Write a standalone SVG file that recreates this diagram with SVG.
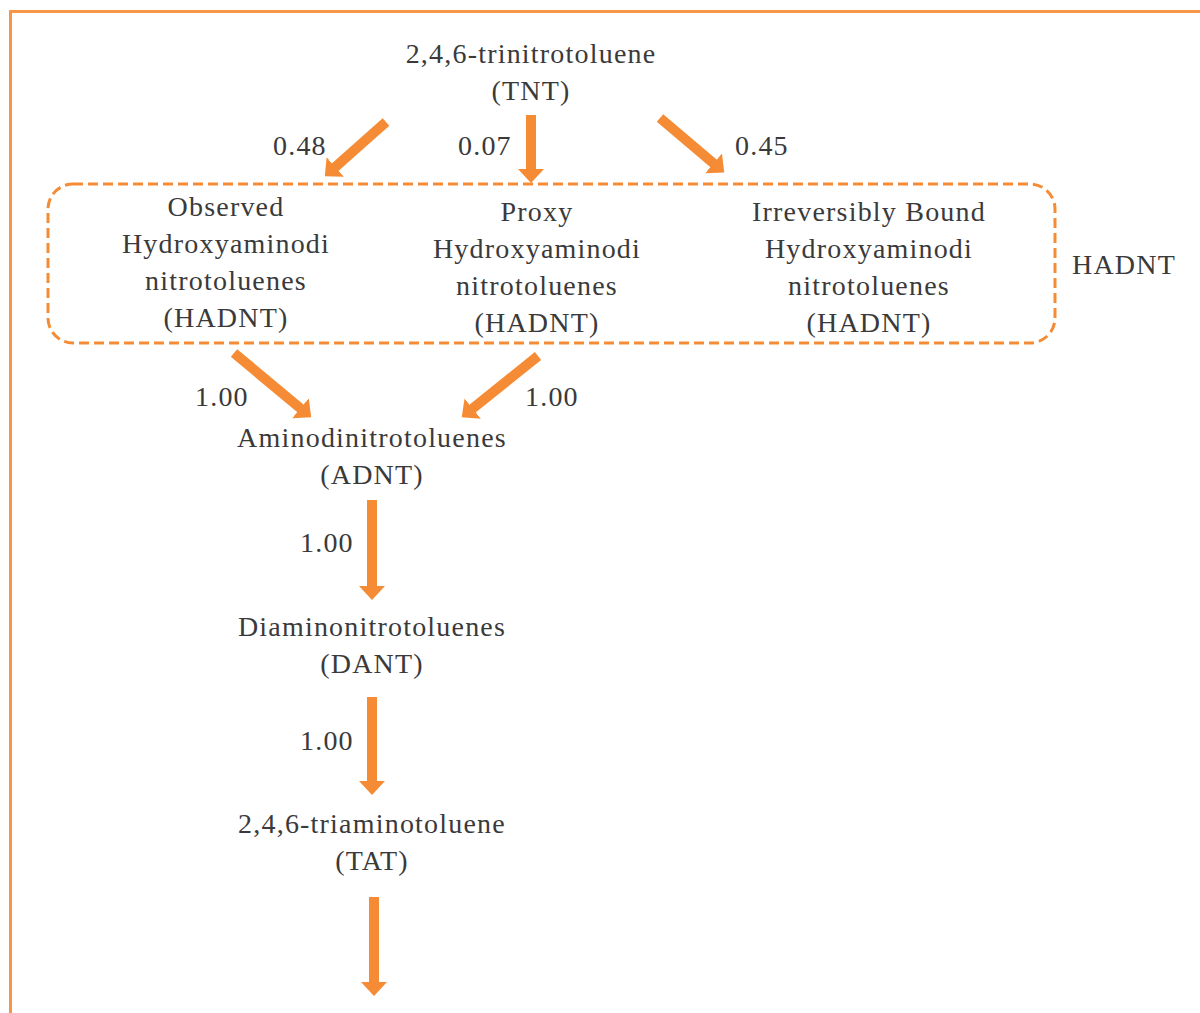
<svg xmlns="http://www.w3.org/2000/svg" width="1200" height="1013" viewBox="0 0 1200 1013">
<style>
text{font-family:'Liberation Serif','Tinos','Times New Roman','DejaVu Serif',serif;font-size:28px;fill:#3a3a3a;letter-spacing:1.2px}
.c{text-anchor:middle}
.ar{stroke:#F58B34;stroke-width:10;fill:none;marker-end:url(#h)}
</style>
<defs>
<marker id="h" markerUnits="userSpaceOnUse" markerWidth="16" markerHeight="28" refX="1" refY="13" orient="auto" viewBox="0 0 16 26">
<path d="M0,0 L14,13 L0,26 z" fill="#F58B34"/>
</marker>
</defs>
<rect x="10.5" y="11.5" width="1200" height="1010" fill="none" stroke="#F79646" stroke-width="3"/>
<g id="hadnt-group">
<rect x="48" y="184" width="1007" height="159" rx="25" fill="none" stroke="#F58B34" stroke-width="3" stroke-dasharray="10,5"/>
<text x="1072" y="274">HADNT</text>
</g>
<g id="tnt"><text class="c" x="531" y="63">2,4,6-trinitrotoluene</text><text class="c" x="531" y="100">(TNT)</text></g>
<g id="observed"><text class="c" x="226" y="216">Observed</text><text class="c" x="226" y="253">Hydroxyaminodi</text><text class="c" x="226" y="290">nitrotoluenes</text><text class="c" x="226" y="327">(HADNT)</text></g>
<g id="proxy"><text class="c" x="537" y="221">Proxy</text><text class="c" x="537" y="258">Hydroxyaminodi</text><text class="c" x="537" y="295">nitrotoluenes</text><text class="c" x="537" y="332">(HADNT)</text></g>
<g id="bound"><text class="c" x="869" y="221">Irreversibly Bound</text><text class="c" x="869" y="258">Hydroxyaminodi</text><text class="c" x="869" y="295">nitrotoluenes</text><text class="c" x="869" y="332">(HADNT)</text></g>
<g id="adnt"><text class="c" x="372" y="447">Aminodinitrotoluenes</text><text class="c" x="372" y="484">(ADNT)</text></g>
<g id="dant"><text class="c" x="372" y="636">Diaminonitrotoluenes</text><text class="c" x="372" y="673">(DANT)</text></g>
<g id="tat"><text class="c" x="372" y="833">2,4,6-triaminotoluene</text><text class="c" x="372" y="870">(TAT)</text></g>
<g id="connectors">
<line class="ar" x1="386" y1="122" x2="334.5" y2="167.7"/>
<line class="ar" x1="531" y1="115" x2="531" y2="170"/>
<line class="ar" x1="660" y1="118" x2="714.3" y2="164"/>
<line class="ar" x1="234" y1="353" x2="301.2" y2="409"/>
<line class="ar" x1="538" y1="356" x2="471.9" y2="409.2"/>
<line class="ar" x1="372" y1="500" x2="372" y2="587"/>
<line class="ar" x1="372" y1="697" x2="372" y2="782"/>
<line class="ar" x1="374" y1="897" x2="374" y2="983"/>
<text x="273" y="155">0.48</text>
<text x="458" y="155">0.07</text>
<text x="735" y="155">0.45</text>
<text x="195" y="406">1.00</text>
<text x="525" y="406">1.00</text>
<text x="300" y="552">1.00</text>
<text x="300" y="750">1.00</text>
</g>
</svg>
